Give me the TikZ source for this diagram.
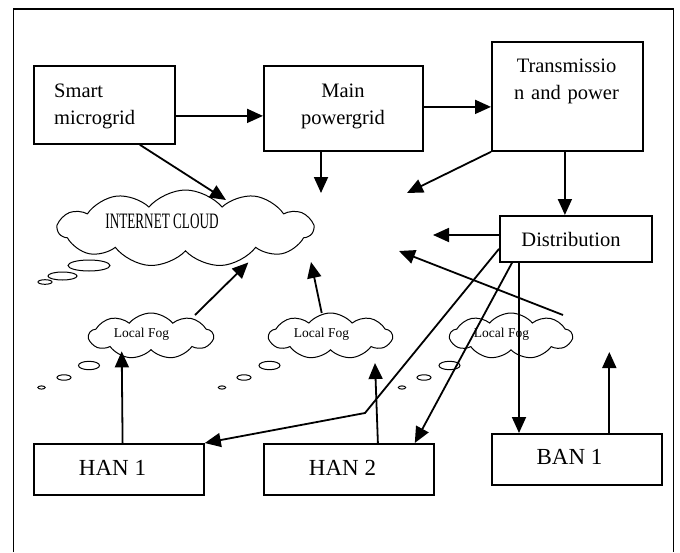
\documentclass[tikz,border=0pt]{standalone}
\usepackage{fontspec}
\usepackage{graphicx}
\setmainfont{Liberation Serif}
\usetikzlibrary{shapes.symbols,arrows.meta,calc}

\begin{document}
\begin{tikzpicture}[x=1pt,y=-1pt,
  box/.style={draw, line width=1.8pt, inner sep=0pt, anchor=north west},
  lbl/.style={inner sep=0pt, font=\fontsize{20.5}{27.5}\selectfont},
  big/.style={inner sep=0pt, font=\fontsize{23}{27}\selectfont},
  fogtxt/.style={inner sep=0pt, font=\fontsize{13.5}{15}\selectfont},
  fog/.style={draw, cloud, cloud puffs=9, cloud puff arc=100, cloud ignores aspect,
              line width=1pt, inner sep=0pt},
  bub/.style={line width=1pt},
  arr/.style={line width=1.8pt, -{Triangle[length=16pt,width=14pt]}},
  wire/.style={line width=1.8pt}]
\useasboundingbox (0,0) rectangle (680,552);

% open frame round the whole drawing
\draw[line width=1.6pt] (13.3,552) -- (13.3,9) -- (673.3,9) -- (673.3,552);

% ---- boxes ----
\node[box, minimum width=141pt, minimum height=78pt]  (smart) at (33,65)  {};
\node[box, minimum width=159pt, minimum height=85pt]  (main)  at (263,65) {};
\node[box, minimum width=151pt, minimum height=109pt] (trans) at (491,41) {};
\node[box, minimum width=152pt, minimum height=46pt]  (dist)  at (499,215) {};
\node[box, minimum width=170pt, minimum height=51pt]  (han1)  at (33,443) {};
\node[box, minimum width=170pt, minimum height=51pt]  (han2)  at (263,443) {};
\node[box, minimum width=170pt, minimum height=51pt]  (ban1)  at (491,433) {};

\node[lbl, anchor=base west, text width=110pt, align=left]   (smart-t) at (54,97)    {Smart\\microgrid};
\node[lbl, anchor=base, text width=150pt, align=center]      (main-t)  at (343,97)   {Main\\powergrid};
\node[lbl, anchor=base, text width=150pt, align=center]      (trans-t) at (566.5,72) {Transmissio\\n and power};
\node[lbl, anchor=base]  (dist-t) at (571,246)   {Distribution};
\node[big, anchor=base]  (han1-t) at (112.5,475) {HAN 1};
\node[big, anchor=base]  (han2-t) at (342.5,475) {HAN 2};
\node[big, anchor=base]  (ban1-t) at (569.5,464) {BAN 1};

% ---- clouds ----
\node[fog, cloud puffs=11, minimum width=255pt, minimum height=77pt] (inet) at (185.5,228.5) {};
\node[fog, minimum width=124pt, minimum height=46pt] (fog1) at (151,336) {};
\node[fog, minimum width=123pt, minimum height=46pt] (fog2) at (330.5,336) {};
\node[fog, minimum width=122pt, minimum height=46pt] (fog3) at (511,336) {};

\node[inner sep=0pt, anchor=base, font=\fontsize{22}{24}\selectfont] (inet-t) at (162,228)
  {\scalebox{0.6}[1]{INTERNET CLOUD}};
\node[fogtxt, anchor=base] (fog1-t) at (141.5,337) {Local Fog};
\node[fogtxt, anchor=base] (fog2-t) at (321.5,337) {Local Fog};
\node[fogtxt, anchor=base] (fog3-t) at (501.5,337) {Local Fog};

% thought bubbles trailing each cloud
\draw[bub] (89,265.5) ellipse [x radius=21, y radius=5.5];
\draw[bub] (62.5,276) ellipse [x radius=14.5, y radius=4];
\draw[bub] (45,282) ellipse [x radius=7, y radius=2.3];
\foreach \cx in {89, 269.5, 449.5}{
  \draw[bub] (\cx,365.5) ellipse [x radius=10.5, y radius=4.2];
}
\foreach \cx in {64, 244, 424}{
  \draw[bub] (\cx,377.5) ellipse [x radius=7, y radius=2.7];
}
\foreach \cx in {41.5, 222, 402}{
  \draw[bub] (\cx,387.5) ellipse [x radius=3.7, y radius=1.6];
}

% ---- connectors ----
\coordinate (s1) at ($(smart.east)+(0,11)$);
\draw[arr] (s1) -- (s1 -| main.west);
\coordinate (m1) at ($(main.east)+(0,-1.5)$);
\draw[arr] (m1) -- (m1 -| trans.west);

\draw[arr] ($(smart.south)+(35.5,0)$) -- ($(inet.center)+(40.5,-28.5)$);

\coordinate (mdown) at (321,193);
\draw[arr] (mdown |- main.south) -- (mdown);

\coordinate (tleft) at (407,193);
\draw[arr] (trans.south west) -- (tleft);

\coordinate (t1) at ($(trans.south)+(-2.5,0)$);
\draw[arr] (t1) -- (t1 |- dist.north);

\coordinate (dleft) at (433,235);
\draw[arr] (dleft -| dist.west) -- (dleft);

\coordinate (fogup3) at (399,251);
\draw[arr] ($(fog3.center)+(52,-21)$) -- (fogup3);

\coordinate (bend) at (365,413);
\draw[arr] ($(dist.west)+(0,10)$) -- (bend) -- (han1.north east);

\draw[arr] ($(dist.south west)+(13,0)$) -- ($(han2.north east)+(-20,0)$);

\coordinate (d3) at ($(dist.south west)+(20,0)$);
\draw[arr] (d3) -- (d3 |- ban1.north);

\coordinate (banup) at (609.3,352);
\draw[arr] (banup |- ban1.north) -- (banup);

\coordinate (han2up) at (375,363);
\draw[arr] ($(han2.north)+(29,0)$) -- (han2up);

\draw[arr] ($(han1.north)+(3.7,0)$) -- ($(fog1.south)+(-29.3,1)$);

\draw[arr] ($(fog1.center)+(44,-21)$) -- ($(inet.center)+(62.8,34)$);

\coordinate (fogup2) at (311,262);
\draw[arr] ($(fog2.center)+(-8.8,-23)$) -- (fogup2);
\end{tikzpicture}
\end{document}
